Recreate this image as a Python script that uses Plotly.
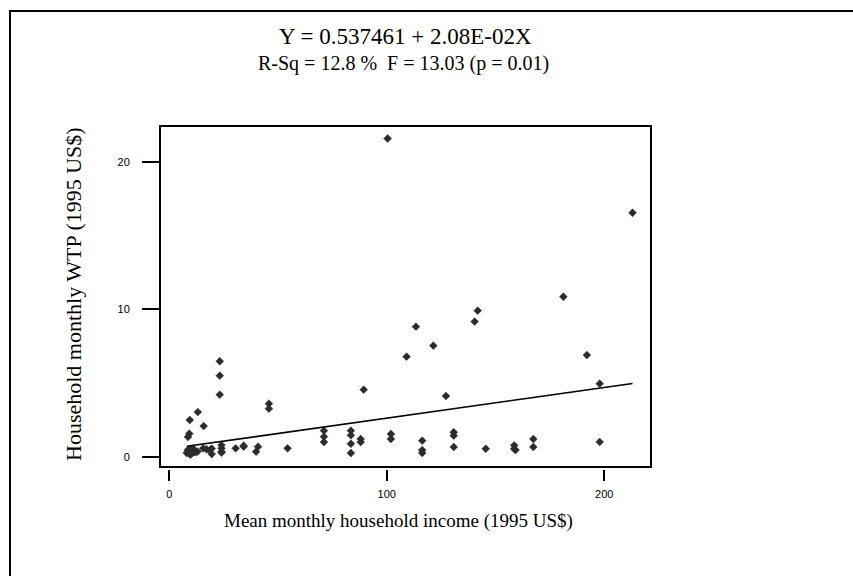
import plotly.graph_objects as go

# Mean monthly household income (1995 US$) and household monthly WTP (1995 US$)
income = [
    8.0, 8.5, 9.0, 9.2, 9.6, 10.0, 10.3, 10.6, 11.0, 11.4, 12.0, 13.0, 9.8, 10.8,
    8.6, 9.2, 9.4, 13.1, 15.8,
    15.6, 17.2, 18.7, 19.5, 19.5,
    23.2, 23.2, 23.2, 24.0, 24.0, 24.0, 24.0,
    30.5, 34.2, 34.2, 40.8, 39.9,
    45.8, 45.8, 54.4,
    71.1, 71.1, 71.1, 83.5, 83.5, 83.5, 83.5, 88.0, 88.0, 89.4,
    100.4, 101.9, 101.9, 109.1, 113.4, 116.3, 116.3, 116.3,
    121.4, 127.2, 130.8, 130.8, 130.8, 140.4, 141.8, 145.5,
    158.6, 158.6, 159.2, 167.4, 167.4,
    181.2, 192.0, 197.9, 197.9, 213.0,
]
wtp = [
    0.25, 0.45, 0.35, 0.20, 0.50, 0.30, 0.40, 0.25, 0.55, 0.35, 0.30, 0.35, 0.15, 0.45,
    1.34, 1.56, 2.49, 3.03, 2.08,
    0.57, 0.50, 0.45, 0.18, 0.55,
    6.48, 5.50, 4.21, 0.79, 0.57, 0.34, 0.27,
    0.57, 0.75, 0.68, 0.68, 0.34,
    3.60, 3.26, 0.57,
    1.77, 1.36, 0.99, 1.77, 1.45, 0.88, 0.25, 1.20, 0.99, 4.55,
    21.6, 1.54, 1.20, 6.79, 8.83, 1.09, 0.45, 0.25,
    7.54, 4.12, 1.66, 1.43, 0.66, 9.17, 9.91, 0.54,
    0.77, 0.54, 0.45, 1.20, 0.66,
    10.86, 6.90, 4.96, 1.00, 16.56,
]

# Least-squares fit reported in the header
intercept = 0.537461
slope = 2.08e-02
fit_x = sorted(set(income))
fit_y = [intercept + slope * v for v in fit_x]

x_ticks = [0, 100, 200]
y_ticks = [0, 10, 20]

fig = go.Figure()
fig.add_trace(go.Scatter(
    x=income, y=wtp, mode="markers",
    marker=dict(symbol="diamond", size=6, color="#2b2b2b",
                line=dict(width=0.5, color="#2b2b2b")),
    hoverinfo="x+y",
))
fig.add_trace(go.Scatter(
    x=fit_x, y=fit_y, mode="lines",
    line=dict(color="black", width=1.6),
    hoverinfo="skip",
))

W, H = 853, 576
L, R, T, B = 160, 651, 126, 469
pw, ph = R - L, B - T


def px(v):
    return (v - L) / pw


def py(v):
    return (B - v) / ph


serif = "Liberation Serif, Times New Roman, serif"
sans = "Liberation Sans, Arial, sans-serif"

fig.update_layout(
    width=W, height=H,
    margin=dict(l=L, r=W - R, t=T, b=H - B, pad=0),
    paper_bgcolor="white", plot_bgcolor="white",
    showlegend=False,
    xaxis=dict(
        range=[-4.28, 221.5], tickvals=x_ticks, ticktext=[str(t) for t in x_ticks],
        ticks="outside", ticklen=11, tickwidth=1.5, tickcolor="black",
        showgrid=False, zeroline=False, showline=False,
        tickfont=dict(family=sans, size=11, color="black"),
        ticklabelstandoff=4,
    ),
    yaxis=dict(
        range=[-0.835, 22.45], tickvals=y_ticks, ticktext=[str(t) for t in y_ticks],
        ticks="outside", ticklen=17, tickwidth=1.5, tickcolor="black",
        showgrid=False, zeroline=False, showline=False,
        tickfont=dict(family=sans, size=11, color="black"),
        ticklabelstandoff=10,
    ),
    shapes=[
        # plot frame
        dict(type="rect", xref="paper", yref="paper",
             x0=0, x1=1, y0=py(467), y1=1,
             line=dict(color="black", width=2), fillcolor="rgba(0,0,0,0)"),
        # outer page frame
        dict(type="rect", xref="paper", yref="paper",
             x0=px(10), x1=px(900), y0=py(620), y1=py(11),
             line=dict(color="black", width=2), fillcolor="rgba(0,0,0,0)"),
    ],
    annotations=[
        dict(text="Y = 0.537461 + 2.08E-02X", xref="paper", yref="paper",
             x=px(405), y=py(36), showarrow=False, xanchor="center", yanchor="middle",
             font=dict(family=serif, size=23, color="black")),
        dict(text="R-Sq = 12.8 %  F = 13.03 (p = 0.01)", xref="paper", yref="paper",
             x=px(403), y=py(64), showarrow=False, xanchor="center", yanchor="middle",
             font=dict(family=serif, size=20, color="black")),
        dict(text="Mean monthly household income (1995 US$)", xref="paper", yref="paper",
             x=px(398), y=py(521), showarrow=False, xanchor="center", yanchor="middle",
             font=dict(family=serif, size=19, color="black")),
        dict(text="Household monthly WTP (1995 US$)", xref="paper", yref="paper",
             x=px(73), y=py(294), showarrow=False, xanchor="center", yanchor="middle",
             textangle=-90,
             font=dict(family=serif, size=22, color="black")),
    ],
)

fig.write_html("out.html")
